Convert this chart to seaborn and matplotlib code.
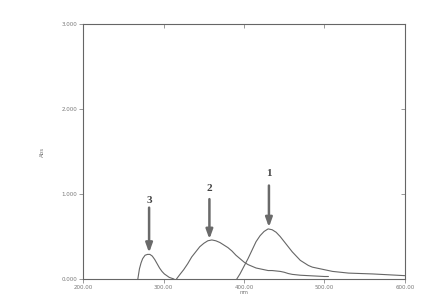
import matplotlib
matplotlib.use("Agg")
import matplotlib.pyplot as plt
import seaborn as sns
import pandas as pd

# Curve 3
wl3 = [268, 269, 270, 272, 274, 277, 280, 283, 286, 289, 292, 295, 298, 301, 304, 307, 310, 313]
ab3 = [0.0, 0.06, 0.12, 0.19, 0.24, 0.28, 0.29, 0.29, 0.27, 0.23, 0.18, 0.13, 0.09, 0.06, 0.04, 0.02, 0.01, 0.0]
# Curve 2
wl2 = [316, 320, 325, 330, 335, 340, 345, 350, 355, 360, 365, 370, 375, 380, 385, 390, 395, 400,
       405, 410, 415, 420, 425, 430, 435, 440, 445, 450, 455, 460, 470, 480, 490, 500, 505]
ab2 = [0.0, 0.05, 0.11, 0.18, 0.26, 0.32, 0.38, 0.42, 0.45, 0.46, 0.45, 0.43, 0.40, 0.37, 0.33, 0.28, 0.24, 0.20,
       0.17, 0.15, 0.13, 0.12, 0.11, 0.10, 0.10, 0.095, 0.09, 0.08, 0.065, 0.055, 0.045, 0.04, 0.035, 0.03, 0.03]
# Curve 1
wl1 = [391, 395, 400, 405, 410, 415, 420, 425, 430, 435, 440, 445, 450, 455, 460, 465, 470, 475, 480,
       485, 490, 495, 500, 510, 520, 530, 545, 560, 580, 600]
ab1 = [0.0, 0.06, 0.15, 0.24, 0.34, 0.44, 0.51, 0.56, 0.59, 0.58, 0.55, 0.50, 0.44, 0.38, 0.32, 0.27, 0.22, 0.19, 0.16,
       0.14, 0.13, 0.12, 0.11, 0.09, 0.08, 0.07, 0.065, 0.06, 0.05, 0.04]

peak_labels = ["1", "2", "3"]
peak_wl = [431, 357, 282]
arrow_top = [1.10, 0.94, 0.84]
arrow_tip = [0.61, 0.47, 0.31]
label_y = [1.24, 1.07, 0.92]

xticks = [200, 300, 400, 500, 600]
yticks = [0.0, 1.0, 2.0, 3.0]

df = pd.concat([
    pd.DataFrame({"nm": wl1, "Abs": ab1, "curve": "1"}),
    pd.DataFrame({"nm": wl2, "Abs": ab2, "curve": "2"}),
    pd.DataFrame({"nm": wl3, "Abs": ab3, "curve": "3"}),
], ignore_index=True)

sns.set_style("white")
plt.rcParams['font.family'] = ['DejaVu Sans']

fig = plt.figure(figsize=(4.33, 3.08), dpi=100)
ax = fig.add_axes([0.192, 0.094, 0.743, 0.828])

sns.lineplot(data=df, x="nm", y="Abs", hue="curve", units="curve", estimator=None,
             sort=False, palette=["#666666"] * 3, linewidth=0.8, legend=False, ax=ax)

for lab, x, yt, yp, ly in zip(peak_labels, peak_wl, arrow_top, arrow_tip, label_y):
    ax.annotate("", xy=(x, yp), xytext=(x, yt),
                arrowprops=dict(arrowstyle="-|>,head_width=0.2,head_length=0.55",
                                color="#6a6a6a", lw=1.8, shrinkA=0, shrinkB=0))
    ax.text(x, ly, lab, ha="center", va="center", fontsize=8, fontweight="bold",
            family="Liberation Serif", color="#444444")

ax.set_xlim(200, 600)
ax.set_ylim(0, 3)
ax.set_xticks(xticks)
ax.set_xticklabels([f"{v:.2f}" for v in xticks])
ax.set_yticks(yticks)
ax.set_yticklabels([f"{v:.3f}" for v in yticks])
ax.tick_params(axis="both", labelsize=4, colors="#888888", length=3, width=0.6,
               direction="out", labelcolor="#777777", pad=1, bottom=True, left=True)
ax.tick_params(axis="x", which="major", top=True)
ax.tick_params(axis="y", which="major", right=True)
for t in ax.xaxis.get_major_ticks():
    t.tick2line.set_marker(matplotlib.lines.TICKDOWN)
for t in ax.yaxis.get_major_ticks():
    t.tick2line.set_marker(matplotlib.lines.TICKLEFT)
ax.set_xlabel("nm", fontsize=4, color="#777777", labelpad=0)
ax.set_ylabel("Abs", fontsize=4, color="#777777", labelpad=12)
for s in ax.spines.values():
    s.set_color("#666666")
    s.set_linewidth(0.8)

fig.savefig("out.png", dpi=100, facecolor="white")
